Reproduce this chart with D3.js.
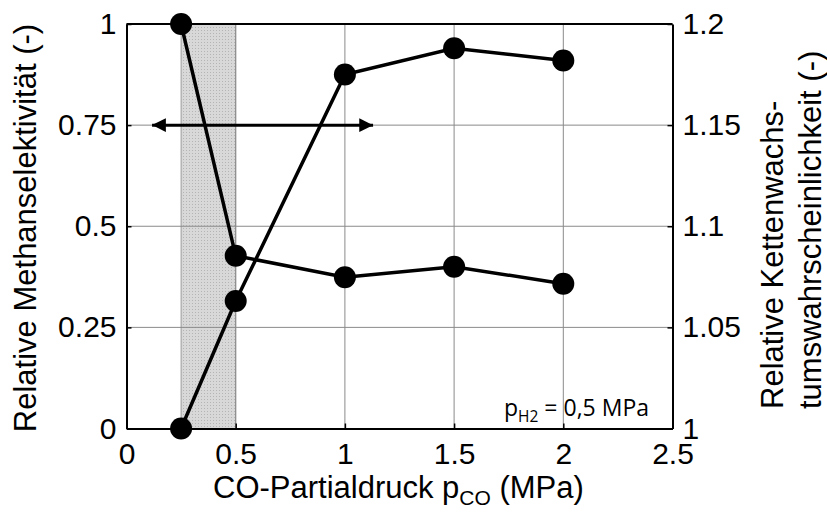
<!DOCTYPE html>
<html><head><meta charset="utf-8">
<script src="https://cdn.jsdelivr.net/npm/d3@7"></script>
<style>body{margin:0;background:#fff}svg text{font-family:"Liberation Sans",Arial,sans-serif;fill:#000}</style>
</head><body><svg id="c" width="827" height="513"></svg>
<script>
const pressure = [0.25, 0.5, 1, 1.5, 2];
const methanSel = [1.0, 0.427, 0.374, 0.40, 0.358];
const chainGrowth = [1.0, 1.063, 1.175, 1.188, 1.182];
const xTicks = [0, 0.5, 1, 1.5, 2, 2.5];
const yLeftTicks = [0, 0.25, 0.5, 0.75, 1];
const yRightTicks = [1, 1.05, 1.1, 1.15, 1.2];
const shadeRange = [0.25, 0.5];
const arrowRange = [0.117, 1.129];
const arrowLevel = 0.75;

const svg = d3.select("#c");
const L = 126.5, R = 672.5, T = 24, B = 428.5;
const x = d3.scaleLinear().domain([0, 2.5]).range([L, R]);
const yl = d3.scaleLinear().domain([0, 1]).range([B, T]);
const yr = d3.scaleLinear().domain([1, 1.2]).range([B, T]);

const defs = svg.append("defs");
const pat = defs.append("pattern").attr("id","dots").attr("width",3).attr("height",3).attr("patternUnits","userSpaceOnUse");
pat.append("rect").attr("width",3).attr("height",3).attr("fill","#d8d8d8");
pat.append("rect").attr("width",1).attr("height",1).attr("fill","#b4b4b4");
defs.append("marker").attr("id","ah").attr("viewBox","0 0 10 10").attr("refX",10).attr("refY",5)
  .attr("markerWidth",5.5).attr("markerHeight",4.6).attr("markerUnits","strokeWidth").attr("orient","auto-start-reverse")
  .append("path").attr("d","M0,0L10,5L0,10z").attr("fill","#000");

// shaded region
svg.append("rect").attr("x", x(shadeRange[0])).attr("y", T).attr("width", x(shadeRange[1]) - x(shadeRange[0])).attr("height", B - T)
  .attr("fill","url(#dots)");
svg.selectAll("line.sedge").data(shadeRange).join("line").attr("x1",d=>x(d)).attr("x2",d=>x(d)).attr("y1",T).attr("y2",B)
  .attr("stroke","#9a9a9a").attr("stroke-width",1);

// grid
const g = svg.append("g");
g.selectAll("line.gx").data(xTicks.filter(d=>d>0 && d<2.5)).join("line")
  .attr("x1",d=>x(d)).attr("x2",d=>x(d)).attr("y1",T).attr("y2",B).attr("stroke","#8a8a8a").attr("stroke-width",1);
g.selectAll("line.gy").data(yLeftTicks.filter(d=>d>0 && d<1)).join("line")
  .attr("x1",L).attr("x2",R).attr("y1",d=>yl(d)).attr("y2",d=>yl(d)).attr("stroke","#8a8a8a").attr("stroke-width",1);

// axes
const ax = svg.append("g").attr("transform",`translate(0,${B})`)
  .call(d3.axisBottom(x).tickValues(xTicks).tickFormat(d3.format("")).tickSizeInner(-5).tickSizeOuter(0).tickPadding(14));
const ayl = svg.append("g").attr("transform",`translate(${L},0)`)
  .call(d3.axisLeft(yl).tickValues(yLeftTicks).tickFormat(d3.format("")).tickSizeInner(-5).tickSizeOuter(0).tickPadding(10));
const ayr = svg.append("g").attr("transform",`translate(${R},0)`)
  .call(d3.axisRight(yr).tickValues(yRightTicks).tickFormat(d3.format("")).tickSizeInner(-5).tickSizeOuter(0).tickPadding(10));
svg.append("line").attr("x1",L).attr("x2",R).attr("y1",T).attr("y2",T).attr("stroke","#000").attr("stroke-width",2);
[ax, ayl, ayr].forEach(a => {
  a.select(".domain").attr("stroke","#000").attr("stroke-width",2);
  a.selectAll(".tick line").attr("stroke","#000").attr("stroke-width",1.5);
  a.selectAll(".tick text").attr("font-size",30).attr("font-family","Liberation Sans, Arial, sans-serif").attr("fill","#000");
});

// arrow
svg.append("line").attr("x1",x(arrowRange[0])).attr("x2",x(arrowRange[1])).attr("y1",yl(arrowLevel)).attr("y2",yl(arrowLevel))
  .attr("stroke","#000").attr("stroke-width",3).attr("marker-start","url(#ah)").attr("marker-end","url(#ah)");

// series
const line = d3.line();
svg.append("path").attr("d", line(pressure.map((p,i)=>[x(p), yl(methanSel[i])]))).attr("fill","none").attr("stroke","#000").attr("stroke-width",3.5);
svg.append("path").attr("d", line(pressure.map((p,i)=>[x(p), yr(chainGrowth[i])]))).attr("fill","none").attr("stroke","#000").attr("stroke-width",3.5);
svg.selectAll("circle.m").data(pressure).join("circle").attr("cx",d=>x(d)).attr("cy",(d,i)=>yl(methanSel[i])).attr("r",11).attr("fill","#000");
svg.selectAll("circle.c").data(pressure).join("circle").attr("cx",d=>x(d)).attr("cy",(d,i)=>yr(chainGrowth[i])).attr("r",11).attr("fill","#000");

// annotation
const an = svg.append("text").attr("x",504).attr("y",416).attr("font-size",23).style("font-family","'Open Sans',sans-serif");
an.append("tspan").text("p");
an.append("tspan").attr("font-size",15.5).attr("dy",6).text("H2");
an.append("tspan").attr("dy",-6).text(" = 0,5 MPa");

// axis titles
const xt = svg.append("text").attr("x",213).attr("y",498).attr("font-size",31);
xt.append("tspan").text("CO-Partialdruck p");
xt.append("tspan").attr("font-size",21).attr("dy",7).text("CO");
xt.append("tspan").attr("dy",-7).text(" (MPa)");
svg.append("text").attr("transform",`translate(36,228) rotate(-90)`).attr("text-anchor","middle").attr("font-size",31)
  .text("Relative Methanselektivität (-)");
svg.append("text").attr("transform",`translate(783,409) rotate(-90)`).attr("text-anchor","start").attr("font-size",31)
  .text("Relative Kettenwachs-");
svg.append("text").attr("transform",`translate(821,409) rotate(-90)`).attr("text-anchor","start").attr("font-size",31)
  .text("tumswahrscheinlichkeit (-)");
</script></body></html>
